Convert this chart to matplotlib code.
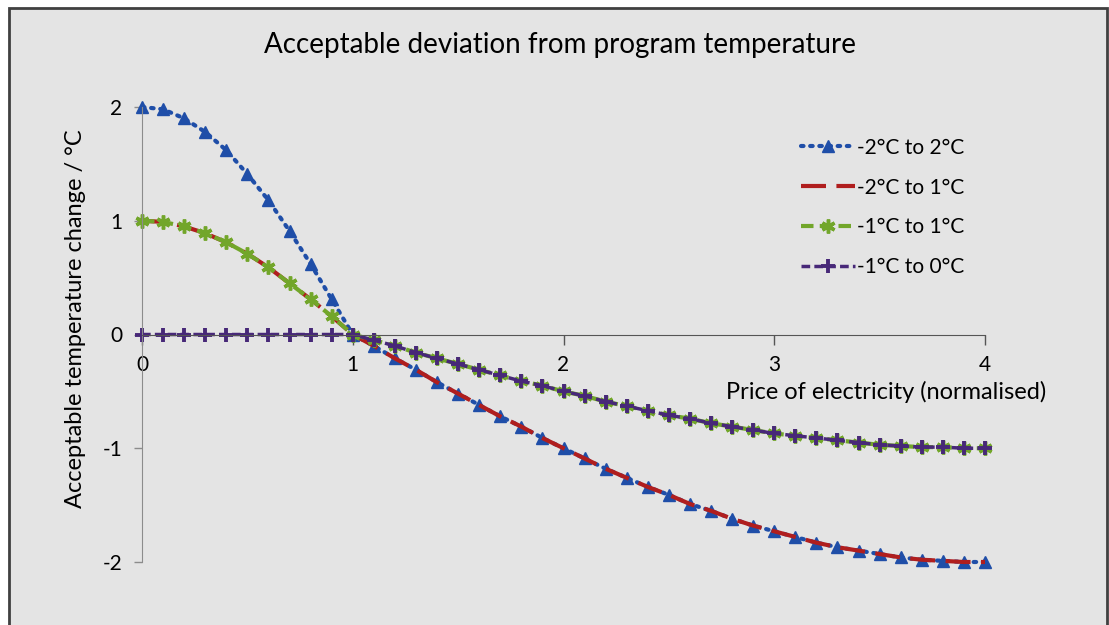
import matplotlib
matplotlib.use("Agg")
import matplotlib.pyplot as plt
from matplotlib.patches import Rectangle

plt.rcParams["font.family"] = ["Lato", "DejaVu Sans"]
plt.rcParams["axes.unicode_minus"] = False

# price of electricity (normalised), step 0.1
price = [round(0.1 * i, 1) for i in range(41)]

# acceptable temperature change / degC
range_m2_p2 = [
    2.00, 1.98, 1.90, 1.78, 1.62, 1.41, 1.18, 0.91, 0.62, 0.31, 0.00,
    -0.10, -0.21, -0.31, -0.42, -0.52, -0.62, -0.72, -0.81, -0.91, -1.00,
    -1.09, -1.18, -1.26, -1.34, -1.41, -1.49, -1.55, -1.62, -1.68, -1.73,
    -1.78, -1.83, -1.87, -1.90, -1.93, -1.96, -1.98, -1.99, -2.00, -2.00,
]
range_m2_p1 = [
    1.00, 0.99, 0.95, 0.89, 0.81, 0.71, 0.59, 0.45, 0.31, 0.16, 0.00,
    -0.10, -0.21, -0.31, -0.42, -0.52, -0.62, -0.72, -0.81, -0.91, -1.00,
    -1.09, -1.18, -1.26, -1.34, -1.41, -1.49, -1.55, -1.62, -1.68, -1.73,
    -1.78, -1.83, -1.87, -1.90, -1.93, -1.96, -1.98, -1.99, -2.00, -2.00,
]
range_m1_p1 = [
    1.00, 0.99, 0.95, 0.89, 0.81, 0.71, 0.59, 0.45, 0.31, 0.16, 0.00,
    -0.05, -0.10, -0.16, -0.21, -0.26, -0.31, -0.36, -0.41, -0.45, -0.50,
    -0.54, -0.59, -0.63, -0.67, -0.71, -0.74, -0.78, -0.81, -0.84, -0.87,
    -0.89, -0.91, -0.93, -0.95, -0.97, -0.98, -0.99, -0.99, -1.00, -1.00,
]
range_m1_0 = [
    0.00, 0.00, 0.00, 0.00, 0.00, 0.00, 0.00, 0.00, 0.00, 0.00, 0.00,
    -0.05, -0.10, -0.16, -0.21, -0.26, -0.31, -0.36, -0.41, -0.45, -0.50,
    -0.54, -0.59, -0.63, -0.67, -0.71, -0.74, -0.78, -0.81, -0.84, -0.87,
    -0.89, -0.91, -0.93, -0.95, -0.97, -0.98, -0.99, -0.99, -1.00, -1.00,
]

x_ticks = [0, 1, 2, 3, 4]
y_ticks = [-2, -1, 0, 1, 2]

bg = "#e4e4e4"
fig = plt.figure(figsize=(11.09, 6.25), dpi=100, facecolor="white")
fig.patches.append(Rectangle(
    (9 / 1109, -0.05), 1098 / 1109, 1.05 - 8 / 625,
    transform=fig.transFigure, facecolor=bg, edgecolor="#404040",
    linewidth=2, zorder=-10,
))
ax = fig.add_axes([142 / 1109, 1 - 562 / 625, 843 / 1109, 455 / 625])
ax.patch.set_alpha(0)

ax.plot(price, range_m2_p2, color="#1f4ea8", linestyle=(0, (0.6, 1.6)),
        dash_capstyle="round", linewidth=3, marker="^", markersize=8,
        clip_on=False, label="-2°C to 2°C")
ax.plot(price, range_m2_p1, color="#b01e1e", linestyle=(0, (6, 2.5)),
        linewidth=3, clip_on=False, label="-2°C to 1°C")
ax.plot(price, range_m1_p1, color="#72a62a", linestyle=(0, (3, 1.5)),
        linewidth=3, marker=(6, 2, 0), markersize=10, markeredgewidth=2.5,
        clip_on=False, label="-1°C to 1°C")
ax.plot(price, range_m1_0, color="#472878", linestyle=(0, (2.5, 1.2)),
        linewidth=2.5, marker="+", markersize=10, markeredgewidth=2.8,
        clip_on=False, label="-1°C to 0°C")

ax.set_xlim(0, 4)
ax.set_ylim(-2, 2)
ax.spines["top"].set_visible(False)
ax.spines["right"].set_visible(False)
ax.spines["bottom"].set_position(("data", 0))
ax.spines["bottom"].set_color("#555555")
ax.spines["left"].set_color("#8c8c8c")
ax.set_xticks(x_ticks)
ax.set_yticks(y_ticks)
ax.tick_params(axis="x", direction="out", length=7, width=1, color="#555555",
               labelsize=15, pad=8)
ax.tick_params(axis="y", direction="out", length=6, width=1, color="#8c8c8c",
               labelsize=15, pad=8)

ax.set_xlabel("Price of electricity (normalised)", fontsize=17)
ax.xaxis.set_label_coords(0.8826, 0.398)
ax.set_ylabel("Acceptable temperature change / °C", fontsize=17)
ax.yaxis.set_label_coords(-0.066, 0.534)

fig.text(560 / 1109, 1 - 45 / 625, "Acceptable deviation from program temperature",
         ha="center", va="center", fontsize=20)

fig.legend(loc="upper left", bbox_to_anchor=(782 / 1109, 1 - 119 / 625),
           frameon=False, fontsize=15, handlelength=2.6, handletextpad=0.1,
           labelspacing=0.95)

fig.savefig("out.png", dpi=100, facecolor="white")
